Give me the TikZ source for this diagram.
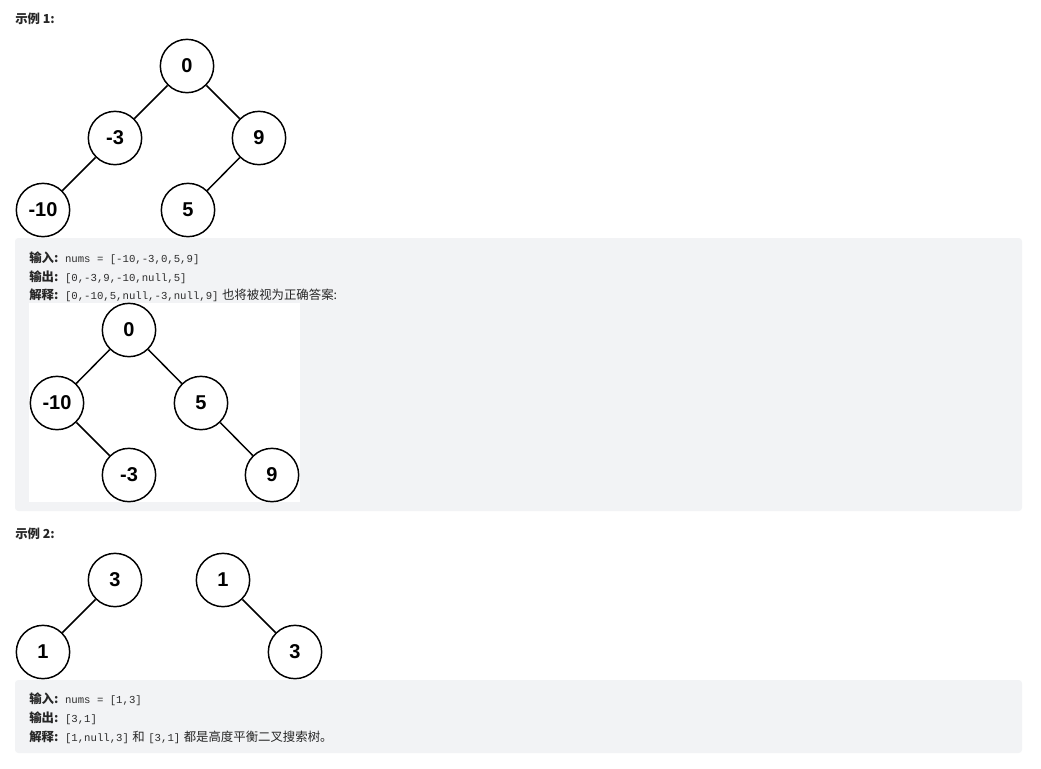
\documentclass[tikz,border=0pt]{standalone}
\usepackage{fontspec}
\setmainfont{Liberation Sans}
\newfontfamily\cjk{Noto Sans CJK SC}
\newfontfamily\mono{Liberation Mono}
\definecolor{boxgray}{RGB}{242,243,245}
\definecolor{txt}{RGB}{38,38,38}
\definecolor{codetxt}{RGB}{45,45,45}
\begin{document}
\begin{tikzpicture}[x=0.75pt,y=-0.75pt,
  tn/.style={circle,draw=black,line width=1.1pt,minimum size=40pt,inner sep=0pt,fill=white,
    font=\fontsize{15}{15}\selectfont\bfseries},
  edge/.style={line width=1.1pt,draw=black},
  lbl/.style={anchor=base west,inner sep=0pt,text=txt,font=\fontsize{9.3}{11}\selectfont},
  hd/.style={anchor=base west,inner sep=0pt,text=txt,font=\cjk\bfseries\fontsize{9.3}{11}\selectfont},
  panel/.style={fill=boxgray,rounded corners=2.5pt,draw=none}]
\useasboundingbox (0,0) rectangle (1041,768);
\fill[white] (0,0) rectangle (1041,768);
\newcommand{\lb}[1]{{\cjk\bfseries #1}}
\newcommand{\cd}[1]{{\mono\fontsize{8}{10}\selectfont\color{codetxt}#1}}
% headings
\node[hd] (h1) at (15,23) {示例 1:};
\node[hd] (h2) at (15,538) {示例 2:};
% tree 1
\node[tn] (a0) at (187,66) {0};
\node[tn] (a1) at (115,138) {-3};
\node[tn] (a2) at (259,138) {9};
\node[tn] (a3) at (43,210) {-10};
\node[tn] (a4) at (188,210) {5};
\draw[edge] (a0) -- (a1);
\draw[edge] (a0) -- (a2);
\draw[edge] (a1) -- (a3);
\draw[edge] (a2) -- (a4);
% panel 1
\path[panel] (15,238) rectangle (1022,511);
\node[lbl] (l1) at (29,262) {\lb{输入:}\hspace{1.5pt} \cd{nums = [-10,-3,0,5,9]}};
\node[lbl] (l2) at (29,281) {\lb{输出:}\hspace{1.5pt} \cd{[0,-3,9,-10,null,5]}};
\node[lbl] (l3) at (29,299) {\lb{解释:}\hspace{1.5pt} \cd{[0,-10,5,null,-3,null,9]} {\cjk 也将被视为正确答案:}};
\fill[white] (29,303) rectangle (300,502);
% tree 2
\node[tn] (b0) at (129,330) {0};
\node[tn] (b1) at (57,403) {-10};
\node[tn] (b2) at (201,403) {5};
\node[tn] (b3) at (129,475) {-3};
\node[tn] (b4) at (272,475) {9};
\draw[edge] (b0) -- (b1);
\draw[edge] (b0) -- (b2);
\draw[edge] (b1) -- (b3);
\draw[edge] (b2) -- (b4);
% tree 3 and 4
\node[tn] (c0) at (115,580) {3};
\node[tn] (c1) at (43,652) {1};
\draw[edge] (c0) -- (c1);
\node[tn] (d0) at (223,580) {1};
\node[tn] (d1) at (295,652) {3};
\draw[edge] (d0) -- (d1);
% panel 2
\path[panel] (15,680) rectangle (1022,753);
\node[lbl] (m1) at (29,703) {\lb{输入:}\hspace{1.5pt} \cd{nums = [1,3]}};
\node[lbl] (m2) at (29,722) {\lb{输出:}\hspace{1.5pt} \cd{[3,1]}};
\node[lbl] (m3) at (29,741) {\lb{解释:}\hspace{1.5pt} \cd{[1,null,3]} {\cjk 和} \cd{[3,1]} {\cjk 都是高度平衡二叉搜索树。}};
\end{tikzpicture}
\end{document}
